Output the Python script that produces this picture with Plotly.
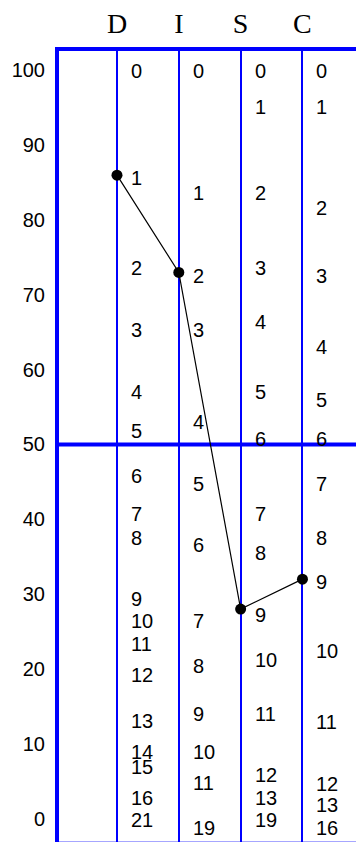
import plotly.graph_objects as go

# Categories and plotted graph values
categories = ["D", "I", "S", "C"]
graph_values = [86, 73, 28, 32]

# Segment scale labels per column (label text, vertical value)
d_labels = ["0", "1", "2", "3", "4", "5", "6", "7", "8", "9", "10", "11", "12", "13", "14", "15", "16", "21"]
d_pos = [100, 85.8, 73.7, 65.4, 57.1, 52.0, 45.9, 40.9, 37.6, 29.5, 26.5, 23.5, 19.3, 13.2, 9.05, 7.0, 2.9, 0.0]
i_labels = ["0", "1", "2", "3", "4", "5", "6", "7", "8", "9", "10", "11", "19"]
i_pos = [100, 83.7, 72.7, 65.4, 53.1, 44.8, 36.7, 26.5, 20.5, 14.1, 9.05, 4.9, -1.1]
s_labels = ["0", "1", "2", "3", "4", "5", "6", "7", "8", "9", "10", "11", "12", "13", "19"]
s_pos = [100, 95.2, 83.8, 73.7, 66.5, 57.1, 50.9, 40.9, 35.6, 27.4, 21.3, 14.1, 5.9, 2.9, 0.0]
c_labels = ["0", "1", "2", "3", "4", "5", "6", "7", "8", "9", "10", "11", "12", "13", "16"]
c_pos = [100, 95.2, 81.7, 72.6, 63.2, 56.1, 50.9, 44.8, 37.6, 31.7, 22.5, 13.1, 4.8, 2.0, -1.1]

y_ticks = [0, 10, 20, 30, 40, 50, 60, 70, 80, 90, 100]
midline = 50

BLUE = "#0000ff"
SANS = "Arial, Liberation Sans, sans-serif"
SERIF = "Times New Roman, Liberation Serif, serif"

xpos = list(range(1, len(categories) + 1))

fig = go.Figure()
fig.add_trace(go.Scatter(
    x=xpos, y=graph_values, mode="lines+markers",
    line=dict(color="black", width=1.2),
    marker=dict(color="black", size=11),
    cliponaxis=False, showlegend=False, hoverinfo="skip",
))

annotations = []
for col, (labs, pos) in enumerate([(d_labels, d_pos), (i_labels, i_pos),
                                    (s_labels, s_pos), (c_labels, c_pos)], start=1):
    for t, v in zip(labs, pos):
        annotations.append(dict(
            x=col, y=v, xref="x", yref="y", text=t, showarrow=False,
            xanchor="left", yanchor="middle", xshift=12, yshift=-1,
            font=dict(family=SANS, size=20, color="black"),
        ))

y_range = [-3.14, 102.6]
x_range = [0.062, 4.866]

shapes = [
    dict(type="line", xref="x", yref="y", x0=x_range[0], x1=x_range[1],
         y0=midline, y1=midline, line=dict(color=BLUE, width=4), layer="below"),
    dict(type="line", xref="x", yref="y", x0=x_range[0], x1=x_range[1],
         y0=y_range[0], y1=y_range[0], line=dict(color="rgba(0,0,255,0.35)", width=2), layer="below"),
]

fig.update_layout(
    width=356, height=842,
    margin=dict(l=59, r=0, t=51, b=0, autoexpand=False),
    paper_bgcolor="white", plot_bgcolor="white",
    annotations=annotations, shapes=shapes,
    xaxis=dict(
        side="top", range=x_range, tickmode="array", tickvals=xpos, ticktext=categories,
        tickfont=dict(family=SERIF, size=28, color="black"),
        showgrid=True, gridcolor=BLUE, gridwidth=1.5, zeroline=False,
        showline=True, linecolor=BLUE, linewidth=4, ticks="", automargin=False,
        ticklabelstandoff=3,
    ),
    yaxis=dict(
        range=y_range, tickmode="array", tickvals=y_ticks,
        tickfont=dict(family=SANS, size=20, color="black"),
        showgrid=False, zeroline=False,
        showline=True, linecolor=BLUE, linewidth=4, ticks="", automargin=False,
        ticklabelstandoff=6,
    ),
)

fig.write_html(
    "out.html",
    config={"displayModeBar": False},
    post_script="document.body.style.margin='0';document.body.style.overflow='hidden';",
)
